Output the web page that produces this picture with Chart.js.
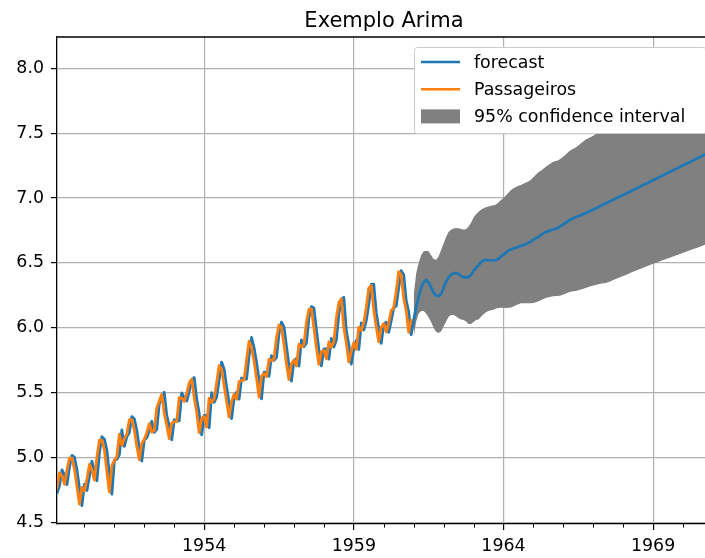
<!DOCTYPE html>
<html>
<head>
<meta charset="utf-8">
<script src="https://cdn.jsdelivr.net/npm/chart.js@4"></script>
<style>
  html, body { margin: 0; padding: 0; background: #fff; }
  #wrap { width: 705px; height: 558px; }
</style>
</head>
<body>
<div id="wrap"><canvas id="canvas"></canvas></div>
<script>
// months counted from Jan 1949 (0 = 1949-01)
var titleText = 'Exemplo Arima';
var yearTicks = ['1954', '1959', '1964', '1969'];
var majorMonths = [60, 120, 180, 240];
var minorMonths = [12, 24, 36, 48, 72, 84, 96, 108, 132, 144, 156, 168, 192, 204, 216, 228, 252];
var yTicks = [4.5, 5.0, 5.5, 6.0, 6.5, 7.0, 7.5, 8.0];

// log(passengers), 1949-01 .. 1960-12
var passageirosStart = 0;
var passageiros = [
  4.718, 4.771, 4.883, 4.860, 4.796, 4.905, 4.997, 4.997, 4.913, 4.779, 4.644, 4.771,
  4.745, 4.836, 4.949, 4.905, 4.828, 5.004, 5.136, 5.136, 5.063, 4.890, 4.736, 4.942,
  4.977, 5.011, 5.182, 5.094, 5.147, 5.182, 5.293, 5.293, 5.215, 5.088, 4.984, 5.112,
  5.142, 5.193, 5.263, 5.198, 5.209, 5.384, 5.438, 5.489, 5.342, 5.252, 5.147, 5.268,
  5.278, 5.278, 5.464, 5.460, 5.434, 5.493, 5.576, 5.606, 5.468, 5.352, 5.193, 5.303,
  5.318, 5.236, 5.460, 5.425, 5.455, 5.576, 5.710, 5.680, 5.557, 5.434, 5.313, 5.434,
  5.489, 5.451, 5.587, 5.595, 5.598, 5.753, 5.897, 5.849, 5.743, 5.613, 5.468, 5.628,
  5.649, 5.624, 5.759, 5.746, 5.762, 5.924, 6.023, 6.004, 5.872, 5.724, 5.602, 5.724,
  5.753, 5.707, 5.875, 5.852, 5.872, 6.045, 6.142, 6.146, 6.001, 5.849, 5.720, 5.817,
  5.829, 5.762, 5.892, 5.852, 5.894, 6.075, 6.196, 6.225, 6.001, 5.883, 5.737, 5.820,
  5.886, 5.835, 6.006, 5.981, 6.040, 6.157, 6.306, 6.326, 6.138, 6.009, 5.892, 6.004,
  6.033, 5.969, 6.038, 6.133, 6.157, 6.282, 6.433, 6.407, 6.230, 6.133, 5.966, 6.068
];

// fitted values, 1949-02 .. 1960-12
var fittedStart = 1;
var fitted = [
  4.725, 4.786, 4.907, 4.864, 4.793, 4.928, 5.018, 5.004, 4.907, 4.766, 4.631,
  4.797, 4.748, 4.857, 4.973, 4.905, 4.823, 5.037, 5.163, 5.143, 5.059, 4.871, 4.720,
  4.980, 4.989, 5.023, 5.215, 5.088, 5.162, 5.194, 5.317, 5.300, 5.210, 5.076, 4.975,
  5.138, 5.154, 5.208, 5.281, 5.195, 5.218, 5.417, 5.453, 5.504, 5.327, 5.245, 5.138,
  5.293, 5.287, 5.285, 5.499, 5.466, 5.437, 5.509, 5.595, 5.618, 5.454, 5.342, 5.176,
  5.327, 5.327, 5.231, 5.501, 5.427, 5.467, 5.601, 5.737, 5.682, 5.546, 5.423, 5.302,
  5.459, 5.504, 5.452, 5.614, 5.603, 5.605, 5.783, 5.926, 5.849, 5.734, 5.600, 5.453,
  5.659, 5.659, 5.627, 5.786, 5.751, 5.771, 5.955, 6.045, 6.008, 5.859, 5.709, 5.591,
  5.749, 5.764, 5.707, 5.907, 5.856, 5.882, 6.078, 6.164, 6.154, 5.986, 5.833, 5.708,
  5.839, 5.838, 5.759, 5.919, 5.853, 5.907, 6.109, 6.221, 6.236, 5.974, 5.872, 5.722,
  5.839, 5.903, 5.834, 6.039, 5.984, 6.056, 6.182, 6.335, 6.336, 6.117, 5.997, 5.881,
  6.028, 6.044, 5.966, 6.055, 6.154, 6.168, 6.308, 6.440, 6.410, 6.210, 6.125, 5.948
];

// out of sample forecast, 1961-01 .. 1970-10
var outStart = 144;
var forecastOut = [
  6.060, 6.160, 6.240, 6.310, 6.350, 6.370, 6.350, 6.310, 6.270, 6.250, 6.245, 6.260,
  6.310, 6.355, 6.390, 6.410, 6.420, 6.423, 6.415, 6.400, 6.390, 6.390, 6.390, 6.410,
  6.440, 6.460, 6.485, 6.505, 6.520, 6.523, 6.522, 6.520, 6.520, 6.522, 6.530, 6.550,
  6.565, 6.580, 6.595, 6.605, 6.612, 6.617, 6.625, 6.633, 6.638, 6.645, 6.655, 6.665,
  6.680, 6.690, 6.700, 6.715, 6.728, 6.738, 6.745, 6.752, 6.758, 6.764, 6.772, 6.785,
  6.797, 6.810, 6.823, 6.835, 6.845, 6.853, 6.860, 6.868, 6.876, 6.884, 6.893, 6.902,
  6.911, 6.920, 6.930, 6.940, 6.950, 6.959, 6.968, 6.977, 6.987, 6.997, 7.006, 7.015,
  7.024, 7.033, 7.043, 7.053, 7.062, 7.071, 7.080, 7.090, 7.100, 7.109, 7.118, 7.128,
  7.138, 7.147, 7.156, 7.166, 7.176, 7.185, 7.194, 7.204, 7.214, 7.223, 7.232, 7.242,
  7.252, 7.261, 7.270, 7.280, 7.290, 7.299, 7.308, 7.318, 7.328, 7.337
];

var ciUpper = [
  6.250, 6.420, 6.500, 6.560, 6.590, 6.595, 6.590, 6.560, 6.530, 6.525, 6.550, 6.600,
  6.650, 6.700, 6.740, 6.756, 6.765, 6.770, 6.768, 6.762, 6.758, 6.760, 6.780, 6.810,
  6.850, 6.875, 6.895, 6.910, 6.922, 6.930, 6.935, 6.940, 6.945, 6.950, 6.965, 6.985,
  7.000, 7.020, 7.040, 7.062, 7.075, 7.085, 7.095, 7.100, 7.110, 7.120, 7.128, 7.140,
  7.160, 7.180, 7.198, 7.210, 7.225, 7.240, 7.255, 7.268, 7.280, 7.285, 7.290, 7.305,
  7.320, 7.335, 7.355, 7.370, 7.380, 7.390, 7.405, 7.420, 7.435, 7.450, 7.460, 7.470,
  7.480, 7.493, 7.506, 7.518, 7.531, 7.543, 7.556, 7.568, 7.580, 7.592, 7.604, 7.616,
  7.628, 7.640, 7.652, 7.664, 7.676, 7.687, 7.699, 7.711, 7.722, 7.734, 7.745, 7.757,
  7.768, 7.780, 7.791, 7.802, 7.814, 7.825, 7.836, 7.847, 7.858, 7.869, 7.880, 7.891,
  7.902, 7.913, 7.924, 7.935, 7.946, 7.957, 7.967, 7.978, 7.989, 8.000
];

var ciLower = [
  5.930, 6.050, 6.110, 6.130, 6.130, 6.110, 6.080, 6.045, 6.000, 5.970, 5.960, 5.975,
  6.010, 6.050, 6.085, 6.100, 6.100, 6.090, 6.075, 6.065, 6.060, 6.050, 6.030, 6.030,
  6.045, 6.060, 6.065, 6.085, 6.105, 6.120, 6.130, 6.135, 6.140, 6.150, 6.154, 6.155,
  6.155, 6.153, 6.155, 6.158, 6.165, 6.175, 6.183, 6.190, 6.190, 6.190, 6.190, 6.190,
  6.192, 6.197, 6.205, 6.213, 6.222, 6.230, 6.236, 6.240, 6.243, 6.245, 6.245, 6.250,
  6.257, 6.265, 6.272, 6.278, 6.282, 6.285, 6.290, 6.296, 6.302, 6.308, 6.315, 6.320,
  6.326, 6.331, 6.336, 6.340, 6.343, 6.346, 6.352, 6.360, 6.368, 6.376, 6.384, 6.392,
  6.400, 6.408, 6.416, 6.424, 6.432, 6.440, 6.448, 6.456, 6.463, 6.471, 6.479, 6.486,
  6.494, 6.501, 6.508, 6.515, 6.522, 6.529, 6.536, 6.543, 6.550, 6.557, 6.564, 6.571,
  6.578, 6.585, 6.592, 6.599, 6.606, 6.613, 6.620, 6.627, 6.634, 6.641
];

var FONT = '"DejaVu Sans", sans-serif';

function toPoints(arr, start) {
  return arr.map(function (v, i) { return { x: start + i, y: v }; });
}

var forecastPoints = toPoints(fitted, fittedStart).concat(toPoints(forecastOut, outStart));

var extras = {
  id: 'extras',
  afterDraw: function (chart) {
    var c = chart.ctx, a = chart.chartArea, xs = chart.scales.x;
    c.save();
    // top spine
    c.strokeStyle = '#000';
    c.lineWidth = 1.3;
    c.beginPath();
    c.moveTo(a.left, a.top);
    c.lineTo(a.right, a.top);
    c.stroke();
    // minor ticks (one per year)
    c.lineWidth = 1;
    minorMonths.forEach(function (m) {
      var px = Math.round(xs.getPixelForValue(m)) + 0.5;
      c.beginPath();
      c.moveTo(px, a.bottom);
      c.lineTo(px, a.bottom + 3.5);
      c.stroke();
    });
    // title
    c.fillStyle = '#000';
    c.font = '21px ' + FONT;
    c.textAlign = 'center';
    c.textBaseline = 'alphabetic';
    c.fillText(titleText, (a.left + a.right) / 2 + 3, 27);

    // legend box (reaches the cropped right edge, like the original figure)
    var bx = a.right - 291, by = a.top + 10, bw = 292, bh = 86;
    c.beginPath();
    c.roundRect(bx + 0.5, by + 0.5, bw, bh, 3);
    c.fillStyle = '#fff';
    c.fill();
    c.strokeStyle = '#cccccc';
    c.lineWidth = 1;
    c.stroke();

    var items = [
      { label: 'forecast', color: '#1f77b4', type: 'line' },
      { label: 'Passageiros', color: '#ff7f0e', type: 'line' },
      { label: '95% confidence interval', color: '#808080', type: 'patch' }
    ];
    c.font = '17.4px ' + FONT;
    c.textAlign = 'left';
    c.textBaseline = 'middle';
    items.forEach(function (it, i) {
      var cy = by + 15 + i * 27.2;
      if (it.type === 'line') {
        c.strokeStyle = it.color;
        c.lineWidth = 2.6;
        c.beginPath();
        c.moveTo(bx + 7, cy);
        c.lineTo(bx + 46, cy);
        c.stroke();
      } else {
        c.fillStyle = it.color;
        c.fillRect(bx + 7, cy - 7, 39, 14);
      }
      c.fillStyle = '#000';
      c.fillText(it.label, bx + 60, cy + 1);
    });
    c.restore();
  }
};

var ctx = document.getElementById('canvas').getContext('2d');
var myChart = new Chart(ctx, {
  type: 'line',
  data: {
    datasets: [
      {
        label: 'Passageiros',
        data: toPoints(passageiros, passageirosStart),
        borderColor: '#ff7f0e',
        borderWidth: 2.8,
        borderJoinStyle: 'round',
        pointRadius: 0,
        fill: false
      },
      {
        label: 'forecast',
        data: forecastPoints,
        borderColor: '#1f77b4',
        borderWidth: 2.8,
        borderJoinStyle: 'round',
        pointRadius: 0,
        fill: false
      },
      {
        label: 'ci upper',
        data: toPoints(ciUpper, outStart),
        borderColor: 'rgba(0,0,0,0)',
        borderWidth: 0,
        backgroundColor: '#808080',
        pointRadius: 0,
        fill: '+1'
      },
      {
        label: 'ci lower',
        data: toPoints(ciLower, outStart),
        borderColor: 'rgba(0,0,0,0)',
        borderWidth: 0,
        pointRadius: 0,
        fill: false
      }
    ]
  },
  options: {
    responsive: true,
    maintainAspectRatio: false,
    animation: false,
    layout: { padding: { top: 37, right: 0, left: 0, bottom: 0 } },
    plugins: {
      legend: { display: false },
      tooltip: { enabled: false },
      title: { display: false }
    },
    scales: {
      x: {
        type: 'linear',
        min: 1,
        max: 260.8,
        afterBuildTicks: function (scale) {
          scale.ticks = majorMonths.map(function (m) { return { value: m }; });
        },
        afterFit: function (scale) { scale.height = 34; },
        ticks: {
          autoSkip: false,
          maxRotation: 0,
          padding: 6,
          color: '#000',
          font: { family: FONT, size: 17.4 },
          callback: function (v) {
            var k = majorMonths.indexOf(v);
            return k >= 0 ? yearTicks[k] : '';
          }
        },
        grid: {
          color: '#b0b0b0',
          lineWidth: 1.2,
          tickColor: '#000',
          tickLength: 6,
          tickWidth: 1.2
        },
        border: { color: '#000', width: 1.3 }
      },
      y: {
        min: 4.49,
        max: 8.24,
        afterBuildTicks: function (scale) {
          scale.ticks = yTicks.map(function (v) { return { value: v }; });
        },
        afterFit: function (scale) { scale.width = 57; },
        ticks: {
          padding: 7,
          color: '#000',
          font: { family: FONT, size: 17.4 },
          callback: function (v) { return v.toFixed(1); }
        },
        grid: {
          color: '#b0b0b0',
          lineWidth: 1.2,
          tickColor: '#000',
          tickLength: 6,
          tickWidth: 1.2
        },
        border: { color: '#000', width: 1.3 }
      }
    }
  },
  plugins: [extras]
});
</script>
</body>
</html>
